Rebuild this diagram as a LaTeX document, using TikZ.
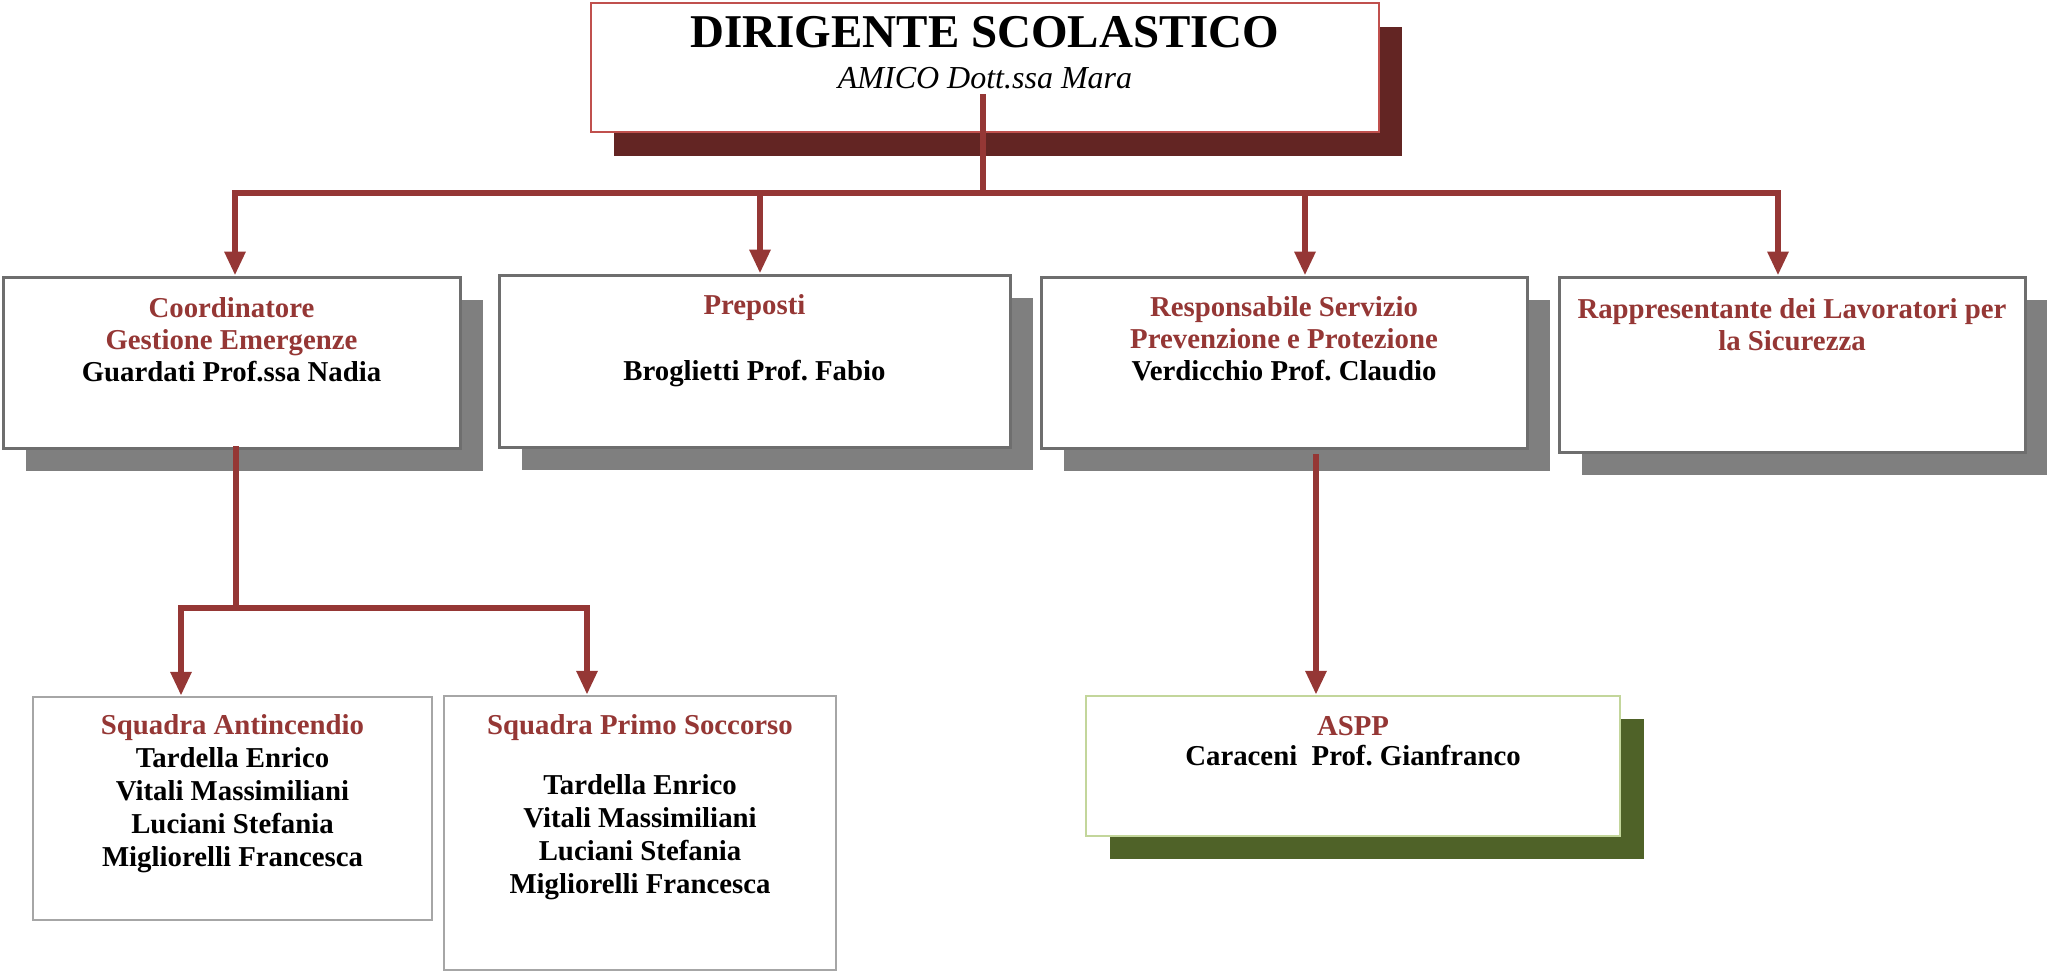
\documentclass[tikz,border=0pt]{standalone}
\usepackage{fontspec}
\setmainfont{Liberation Serif}
\frenchspacing
\usetikzlibrary{arrows.meta,fit,shadows}
\definecolor{linered}{HTML}{953735}
\definecolor{hred}{HTML}{953735}
\definecolor{topborder}{HTML}{C0504D}
\definecolor{topshadow}{HTML}{632523}
\definecolor{shgray}{HTML}{7F7F7F}
\definecolor{boxgray}{HTML}{6E6E6E}
\definecolor{lightborder}{HTML}{A6A6A6}
\definecolor{asppborder}{HTML}{C3D69B}
\definecolor{asppshadow}{HTML}{4F6228}
\begin{document}
\begin{tikzpicture}[x=0.5pt,y=-0.5pt,
  boxbase/.style={rectangle, inner sep=0pt, fill=white},
  topbox/.style={boxbase, draw=topborder, line width=1pt,
    drop shadow={opacity=1, fill=topshadow, shadow xshift=11.5pt, shadow yshift=-12pt}},
  gbox/.style={boxbase, draw=boxgray, line width=1.5pt,
    drop shadow={opacity=1, fill=shgray, shadow xshift=11.5pt, shadow yshift=-11.5pt}},
  sbox/.style={boxbase, draw=lightborder, line width=1.25pt},
  asppbox/.style={boxbase, draw=asppborder, line width=1.25pt,
    drop shadow={opacity=1, fill=asppshadow, shadow xshift=12pt, shadow yshift=-11.5pt}},
  txt/.style={inner sep=0pt, align=center, anchor=north,
    font={\fontsize{14.4pt}{16pt}\selectfont\bfseries}},
  conn/.style={draw=linered, line width=3pt},
  arr/.style={-{Triangle[width=10pt,length=12pt]}}
]
\useasboundingbox (0,0) rectangle (2047,971);

% boxes
\node[topbox, fit={(591,3)(1379,132)}] (top) {};
\node[gbox, fit={(3,277)(460,448)}] (A) {};
\node[gbox, fit={(499,275)(1010,447)}] (B) {};
\node[gbox, fit={(1041,277)(1527,448)}] (C) {};
\node[gbox, fit={(1559,277)(2025,452)}] (D) {};
\node[sbox, fit={(33,697)(432,920)}] (E) {};
\node[sbox, fit={(444,696)(836,970)}] (F) {};
\node[asppbox, fit={(1086,696)(1620,836)}] (G) {};

% texts
\node[inner sep=0pt, anchor=base, font={\fontsize{23.5pt}{28pt}\selectfont\bfseries}] (topt1) at (985,47) {DIRIGENTE SCOLASTICO};
\node[inner sep=0pt, anchor=base, font={\fontsize{16pt}{19pt}\selectfont\itshape}] (topt2) at (985,88) {AMICO Dott.ssa Mara};

\node[txt] (At) at (231.5,297) {\textcolor{hred}{Coordinatore}\\\textcolor{hred}{Gestione Emergenze}\\Guardati Prof.ssa Nadia};
\node[txt] (Bt) at (754.5,294) {\textcolor{hred}{Preposti}\\[17pt]Broglietti Prof. Fabio};
\node[txt] (Ct) at (1284,296) {\textcolor{hred}{Responsabile Servizio}\\\textcolor{hred}{Prevenzione e Protezione}\\Verdicchio Prof. Claudio};
\node[txt] (Dt) at (1792,298) {\textcolor{hred}{Rappresentante dei Lavoratori per}\\\textcolor{hred}{la Sicurezza}};
\node[txt, font={\fontsize{14.4pt}{16.5pt}\selectfont\bfseries}] (Et) at (232.5,714) {\textcolor{hred}{Squadra Antincendio}\\Tardella Enrico\\Vitali Massimiliani\\Luciani Stefania\\Migliorelli Francesca};
\node[txt, font={\fontsize{14.4pt}{16.5pt}\selectfont\bfseries}] (Ft) at (640,714) {\textcolor{hred}{Squadra Primo Soccorso}\\[13.5pt]Tardella Enrico\\Vitali Massimiliani\\Luciani Stefania\\Migliorelli Francesca};
\node[txt, font={\fontsize{14.4pt}{15pt}\selectfont\bfseries}] (Gt) at (1353,716) {\textcolor{hred}{ASPP}\\Caraceni~ Prof. Gianfranco};

% connectors
\coordinate (topstart) at (983,94);
\coordinate (bus) at (983,193);
\draw[conn] (topstart) -- (bus);
\draw[conn,arr] (bus) -| ([xshift=1.75pt]A.north);
\draw[conn,arr] (bus) -| ([xshift=2.75pt]B.north);
\draw[conn,arr] (bus) -| ([xshift=10.5pt]C.north);
\draw[conn,arr] (bus) -| ([xshift=-7pt]D.north);

\coordinate (adown) at (236,446);
\coordinate (abus) at (236,608);
\draw[conn] (adown) -- (abus);
\draw[conn,arr] (abus) -| ([xshift=-25.75pt]E.north);
\draw[conn,arr] (abus) -| ([xshift=-26.5pt]F.north);

\coordinate (cdown) at (1316,454);
\draw[conn,arr] (cdown) -- ([xshift=-18.5pt]G.north);
\end{tikzpicture}
\end{document}
